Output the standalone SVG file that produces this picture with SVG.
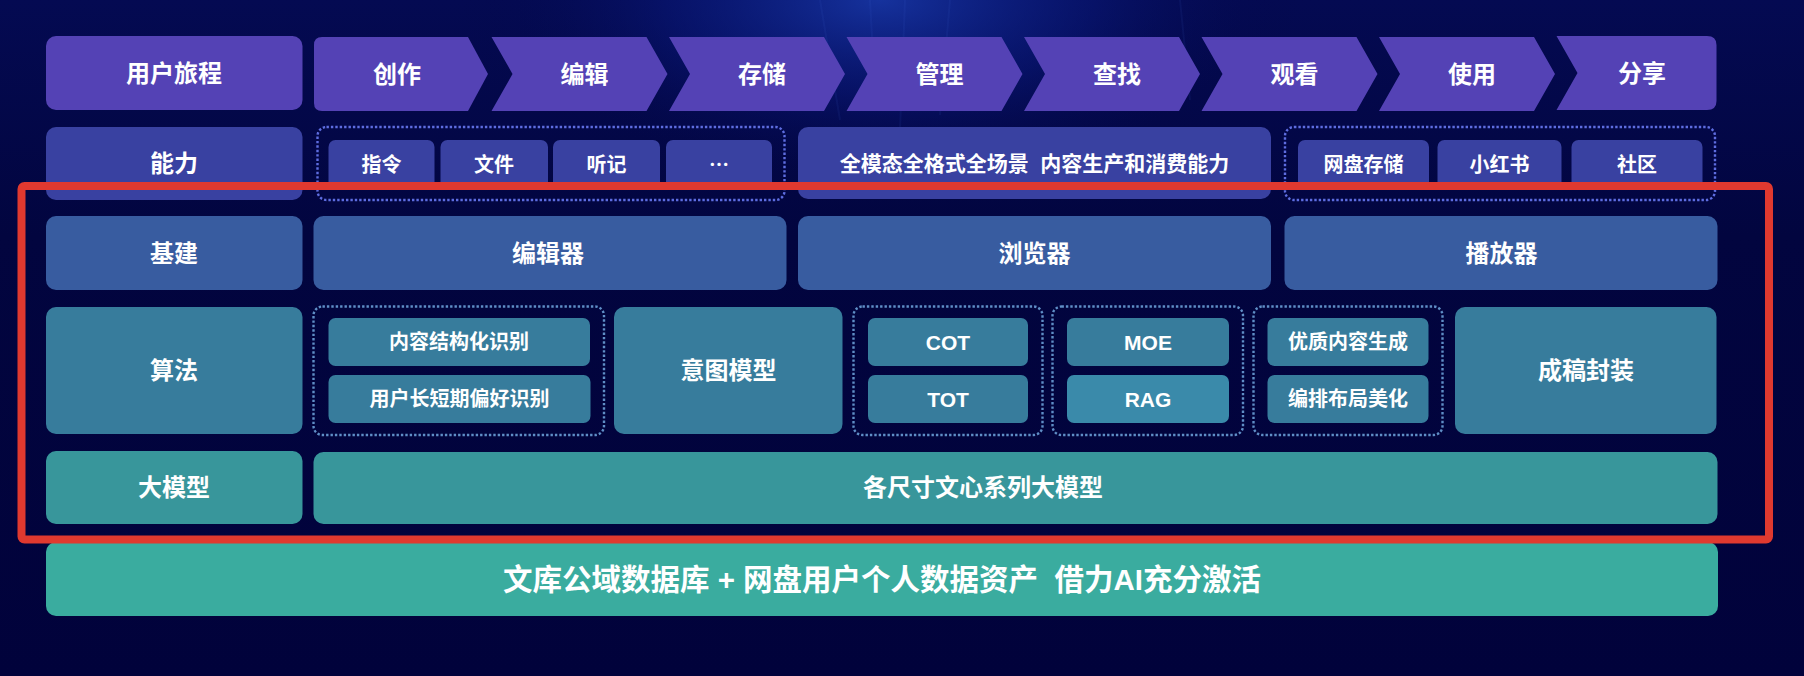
<svg xmlns="http://www.w3.org/2000/svg" width="1804" height="676" viewBox="0 0 1804 676">
  <defs>
    <radialGradient id="glow" cx="880" cy="0" r="420" gradientUnits="userSpaceOnUse" gradientTransform="translate(880 0) scale(1 0.45) translate(-880 0)">
      <stop offset="0" stop-color="#1a3cb0" stop-opacity="0.8"/>
      <stop offset="0.5" stop-color="#0c1f8a" stop-opacity="0.4"/>
      <stop offset="1" stop-color="#02033d" stop-opacity="0"/>
    </radialGradient>
    <linearGradient id="bgv" x1="0" y1="0" x2="0" y2="1">
      <stop offset="0" stop-color="#040a52"/>
      <stop offset="0.35" stop-color="#02053f"/>
      <stop offset="1" stop-color="#01023b"/>
    </linearGradient>
    <style>
      .t { font-family: "Liberation Sans", "Noto Sans CJK SC", sans-serif; font-weight: 700; fill: #ffffff; text-anchor: middle; dominant-baseline: central; }
      .big { font-size: 24px; }
      .sm { font-size: 20px; }
      .lat { font-size: 21px; }
      .r1 { fill: #5442b5; }
      .r2 { fill: #3941a1; }
      .r3 { fill: #385ca0; }
      .r4 { fill: #377c9c; }
      .r4b { fill: #3a8aaa; }
      .r5 { fill: #38969b; }
      .r6 { fill: #3aac9f; }
      .dot2 { fill: none; stroke: #5e6de0; stroke-width: 2.4; stroke-dasharray: 2.4 2; }
      .dot4 { fill: none; stroke: #5f8ec6; stroke-width: 2.4; stroke-dasharray: 2.4 2; }
    </style>
  </defs>

  <!-- background -->
  <rect x="0" y="0" width="1804" height="676" fill="url(#bgv)"/>
  <rect x="0" y="0" width="1804" height="200" fill="url(#glow)"/>
  <g stroke="#4a78e0" stroke-opacity="0.08" stroke-width="2">
    <line x1="820" y1="0" x2="840" y2="120"/>
    <line x1="870" y1="0" x2="876" y2="110"/>
    <line x1="905" y1="0" x2="900" y2="130"/>
    <line x1="950" y1="0" x2="940" y2="115"/>
    <line x1="1180" y1="0" x2="1190" y2="100"/>
  </g>

  <!-- Row 1: user journey -->
  <g id="row-journey-label">
    <rect class="r1" x="46" y="36" width="256.5" height="74" rx="10"/>
    <text class="t big" x="174" y="73">用户旅程</text>
  </g>
  <g id="step-create">
    <path class="r1" d="M322,37 H468 L488,74 L468,111 H322 Q314,111 314,103 V45 Q314,37 322,37 Z"/>
    <text class="t big" x="397" y="74">创作</text>
  </g>
  <g id="step-edit">
    <path class="r1" d="M491.5,37 H646.5 L667.5,74 L646.5,111 H491.5 L512.5,74 Z"/>
    <text class="t big" x="584.5" y="74">编辑</text>
  </g>
  <g id="step-store">
    <path class="r1" d="M669,37 H824 L845,74 L824,111 H669 L690,74 Z"/>
    <text class="t big" x="762" y="74">存储</text>
  </g>
  <g id="step-manage">
    <path class="r1" d="M846.5,37 H1001.5 L1022.5,74 L1001.5,111 H846.5 L867.5,74 Z"/>
    <text class="t big" x="939.5" y="74">管理</text>
  </g>
  <g id="step-find">
    <path class="r1" d="M1024,37 H1179 L1200,74 L1179,111 H1024 L1045,74 Z"/>
    <text class="t big" x="1117" y="74">查找</text>
  </g>
  <g id="step-watch">
    <path class="r1" d="M1201.5,37 H1356.5 L1377.5,74 L1356.5,111 H1201.5 L1222.5,74 Z"/>
    <text class="t big" x="1294.5" y="74">观看</text>
  </g>
  <g id="step-use">
    <path class="r1" d="M1379,37 H1534 L1555,74 L1534,111 H1379 L1400,74 Z"/>
    <text class="t big" x="1472" y="74">使用</text>
  </g>
  <g id="step-share">
    <path class="r1" d="M1556.5,36 H1707 Q1716.5,36 1716.5,45 V101 Q1716.5,110 1707,110 H1556.5 L1577.5,73 Z"/>
    <text class="t big" x="1642" y="73">分享</text>
  </g>

  <!-- Row 2: capability -->
  <g id="row-capability-label">
    <rect class="r2" x="46" y="127" width="256.5" height="73" rx="10"/>
    <text class="t big" x="174" y="163.5">能力</text>
  </g>
  <g id="cap-group-1">
    <rect class="dot2" x="317.5" y="127" width="467" height="73" rx="9"/>
    <rect class="r2" x="328.5" y="140" width="106" height="50" rx="7"/>
    <text class="t sm" x="381.5" y="165">指令</text>
    <rect class="r2" x="440.5" y="140" width="107.5" height="50" rx="7"/>
    <text class="t sm" x="494" y="165">文件</text>
    <rect class="r2" x="553" y="140" width="107" height="50" rx="7"/>
    <text class="t sm" x="606.5" y="165">听记</text>
    <rect class="r2" x="666" y="140" width="106" height="50" rx="7"/>
    <text class="t sm" x="719" y="163" style="font-family:'Noto Sans CJK SC',sans-serif">…</text>
  </g>
  <g id="cap-fullmodal">
    <rect class="r2" x="798" y="127" width="473" height="72" rx="10"/>
    <text class="t" x="1034.5" y="163" style="font-size:21px" xml:space="preserve">全模态全格式全场景  内容生产和消费能力</text>
  </g>
  <g id="cap-group-2">
    <rect class="dot2" x="1285" y="127" width="430" height="73" rx="9"/>
    <rect class="r2" x="1298" y="140" width="131" height="50" rx="7"/>
    <text class="t sm" x="1363.5" y="165">网盘存储</text>
    <rect class="r2" x="1437.5" y="140" width="124" height="50" rx="7"/>
    <text class="t sm" x="1499.5" y="165">小红书</text>
    <rect class="r2" x="1571.5" y="140" width="131" height="50" rx="7"/>
    <text class="t sm" x="1637" y="165">社区</text>
  </g>

  <!-- Row 3: infrastructure -->
  <g id="row-infra-label">
    <rect class="r3" x="46" y="216" width="256.5" height="74" rx="10"/>
    <text class="t big" x="174" y="253">基建</text>
  </g>
  <g id="infra-editor">
    <rect class="r3" x="313.5" y="216" width="473" height="74" rx="10"/>
    <text class="t big" x="548" y="253">编辑器</text>
  </g>
  <g id="infra-browser">
    <rect class="r3" x="798" y="216" width="473" height="74" rx="10"/>
    <text class="t big" x="1034.5" y="253">浏览器</text>
  </g>
  <g id="infra-player">
    <rect class="r3" x="1284.5" y="216" width="433" height="74" rx="10"/>
    <text class="t big" x="1501.5" y="253">播放器</text>
  </g>

  <!-- Row 4: algorithms -->
  <g id="row-algo-label">
    <rect class="r4" x="46" y="307" width="256.5" height="127" rx="10"/>
    <text class="t big" x="174" y="370.5">算法</text>
  </g>
  <g id="algo-recognition">
    <rect class="dot4" x="313.5" y="306.5" width="290.5" height="128.5" rx="9"/>
    <rect class="r4" x="328.5" y="318" width="261.5" height="48" rx="7"/>
    <text class="t sm" x="459" y="342">内容结构化识别</text>
    <rect class="r4" x="328.5" y="375" width="262" height="48" rx="7"/>
    <text class="t sm" x="459.5" y="399">用户长短期偏好识别</text>
  </g>
  <g id="algo-intent">
    <rect class="r4" x="614" y="307" width="228.5" height="127" rx="10"/>
    <text class="t big" x="728.5" y="370.5">意图模型</text>
  </g>
  <g id="algo-reasoning">
    <rect class="dot4" x="853.5" y="306.5" width="189" height="128.5" rx="9"/>
    <rect class="r4" x="868" y="318" width="160" height="48" rx="7"/>
    <text class="t lat" x="948" y="342">COT</text>
    <rect class="r4" x="868" y="375" width="160" height="48" rx="7"/>
    <text class="t lat" x="948" y="399">TOT</text>
  </g>
  <g id="algo-moe-rag">
    <rect class="dot4" x="1052.5" y="306.5" width="190.5" height="128.5" rx="9"/>
    <rect class="r4" x="1067" y="318" width="162" height="48" rx="7"/>
    <text class="t lat" x="1148" y="342">MOE</text>
    <rect class="r4b" x="1067" y="375" width="162" height="48" rx="7"/>
    <text class="t lat" x="1148" y="399">RAG</text>
  </g>
  <g id="algo-generation">
    <rect class="dot4" x="1253.5" y="306.5" width="189" height="128.5" rx="9"/>
    <rect class="r4" x="1267.5" y="318" width="161" height="48" rx="7"/>
    <text class="t sm" x="1348" y="342">优质内容生成</text>
    <rect class="r4" x="1267.5" y="375" width="161" height="48" rx="7"/>
    <text class="t sm" x="1348" y="399">编排布局美化</text>
  </g>
  <g id="algo-package">
    <rect class="r4" x="1455" y="307" width="261.5" height="127" rx="10"/>
    <text class="t big" x="1586" y="370.5">成稿封装</text>
  </g>

  <!-- Row 5: large models -->
  <g id="row-llm-label">
    <rect class="r5" x="46" y="451" width="256.5" height="73" rx="10"/>
    <text class="t big" x="174" y="487">大模型</text>
  </g>
  <g id="llm-ernie">
    <rect class="r5" x="313.5" y="452" width="1404" height="72" rx="10"/>
    <text class="t big" x="983" y="487.5">各尺寸文心系列大模型</text>
  </g>

  <!-- Row 6: data -->
  <g id="data-foundation">
    <rect class="r6" x="46" y="542" width="1672" height="74" rx="10"/>
    <text class="t" x="882" y="579" style="font-size:29.5px" xml:space="preserve">文库公域数据库 + 网盘用户个人数据资产  借力AI充分激活</text>
  </g>

  <!-- highlight frame -->
  <g id="highlight-frame">
    <rect x="21.5" y="186" width="1747.5" height="353.5" rx="3" fill="none" stroke="#e0392f" stroke-width="8"/>
  </g>
</svg>
